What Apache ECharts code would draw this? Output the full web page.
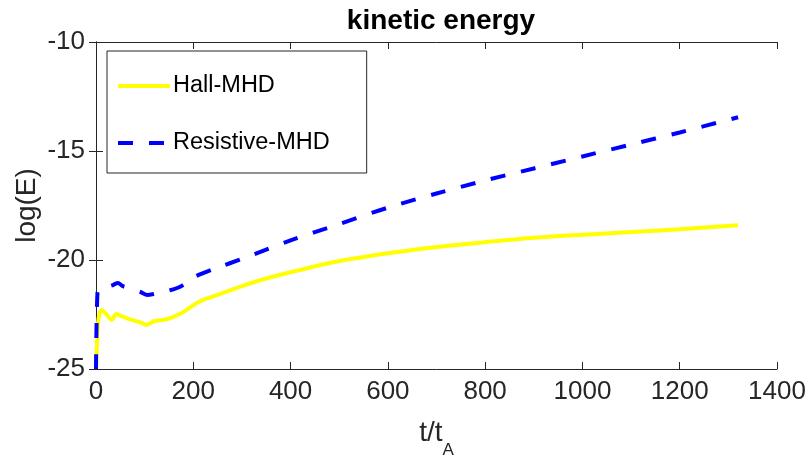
<!DOCTYPE html>
<html>
<head>
<meta charset="utf-8">
<script src="https://cdn.jsdelivr.net/npm/echarts@6/dist/echarts.min.js"></script>
<style>
  html, body { margin: 0; padding: 0; background: #fff; }
  #chart { width: 811px; height: 459px; }
</style>
</head>
<body>
<div id="chart"></div>
<script>
// Hall-MHD run
const tHall = [0, 2, 4, 8, 12, 20, 32, 42, 55, 70, 90, 104, 120, 145, 172, 213, 250, 300, 350, 419, 500, 624, 700, 800, 900, 1000, 1100, 1200, 1320]
const eHall = [-25, -23.8, -22.9, -22.4, -22.3, -22.45, -22.75, -22.48, -22.6, -22.72, -22.85, -22.98, -22.8, -22.72, -22.48, -21.9, -21.6, -21.2, -20.85, -20.46, -20.05, -19.62, -19.4, -19.18, -18.98, -18.84, -18.72, -18.59, -18.41]
// Resistive-MHD run
const tRes = [0, 3, 8, 20, 35, 45, 55, 70, 90, 105, 120, 150, 175, 200, 250, 300, 400, 500, 600, 700, 800, 900, 1000, 1100, 1200, 1320]
const eRes = [-25, -21.5, -21.3, -21.25, -21.15, -21.05, -21.2, -21.3, -21.45, -21.6, -21.55, -21.4, -21.2, -20.8, -20.35, -19.95, -19.1, -18.35, -17.6, -16.95, -16.35, -15.8, -15.25, -14.7, -14.15, -13.45]

const xTicks = [0, 200, 400, 600, 800, 1000, 1200, 1400]
const yTicks = [-25, -20, -15, -10]

const font = '"Liberation Sans", Arial, sans-serif'
const axisColor = '#262626'

function pairs(xs, ys) {
  return xs.map((x, i) => [x, ys[i]])
}

const boxAxis = {
  axisLine: { show: true, lineStyle: { color: axisColor, width: 1 } },
  axisTick: { show: true, inside: true, length: 7, lineStyle: { color: axisColor } },
  splitLine: { show: false }
}

let option = {
  animation: false,
  backgroundColor: '#fff',
  title: {
    text: 'kinetic energy',
    left: 436,
    textAlign: 'center',
    top: 2,
    textStyle: { fontFamily: font, fontWeight: 'bold', fontSize: 28, color: '#000' }
  },
  grid: { left: 96, right: 34, top: 42, bottom: 90, containLabel: false, outerBoundsMode: 'none' },
  legend: {
    orient: 'vertical',
    left: 107,
    top: 51,
    padding: [23, 37, 18, 9],
    itemWidth: 52,
    itemHeight: 14,
    itemGap: 33,
    borderColor: axisColor,
    borderWidth: 1,
    backgroundColor: '#fff',
    itemStyle: { opacity: 0, borderWidth: 0 },
    lineStyle: { width: 4 },
    textStyle: { fontFamily: font, fontSize: 23.5, color: '#000', padding: [0, 0, 0, -2] },
    data: ['Hall-MHD', 'Resistive-MHD']
  },
  xAxis: [{
    type: 'value',
    min: 0,
    max: 1400,
    interval: 200,
    position: 'bottom',
    ...boxAxis,
    axisLabel: {
      margin: 10,
      fontFamily: font, fontSize: 26, color: axisColor,
      formatter: v => xTicks.includes(v) ? String(v) : ''
    },
    name: 't/t{sub|A}',
    nameLocation: 'middle',
    nameGap: 39,
    nameTextStyle: {
      fontFamily: font, fontSize: 28, color: axisColor,
      rich: { sub: { fontFamily: font, fontSize: 17, color: axisColor, verticalAlign: 'bottom', padding: [34, 0, 0, 0] } }
    }
  }, {
    type: 'value',
    min: 0,
    max: 1400,
    interval: 200,
    position: 'top',
    ...boxAxis,
    axisLabel: { show: false }
  }],
  yAxis: [{
    type: 'value',
    min: -25,
    max: -10,
    interval: 5,
    position: 'left',
    ...boxAxis,
    axisLabel: {
      margin: 11,
      fontFamily: font, fontSize: 26, color: axisColor,
      formatter: v => yTicks.includes(v) ? String(v) : ''
    },
    name: 'log(E)',
    nameLocation: 'middle',
    nameRotate: 90,
    nameGap: 55,
    nameMoveOverlap: false,
    nameTextStyle: { fontFamily: font, fontSize: 28, color: axisColor }
  }, {
    type: 'value',
    min: -25,
    max: -10,
    interval: 5,
    position: 'right',
    ...boxAxis,
    axisLabel: { show: false }
  }],
  series: [{
    name: 'Hall-MHD',
    type: 'line',
    data: pairs(tHall, eHall),
    symbol: 'none',
    smooth: 0.3,
    color: '#ffff00',
    lineStyle: { color: '#ffff00', width: 4 }
  }, {
    name: 'Resistive-MHD',
    type: 'line',
    data: pairs(tRes, eRes),
    symbol: 'none',
    smooth: 0.3,
    color: '#0000ff',
    lineStyle: { color: '#0000ff', width: 4, type: [15, 16] }
  }]
}

let chart = echarts.init(document.getElementById('chart'))
chart.setOption(option)
</script>
</body>
</html>
